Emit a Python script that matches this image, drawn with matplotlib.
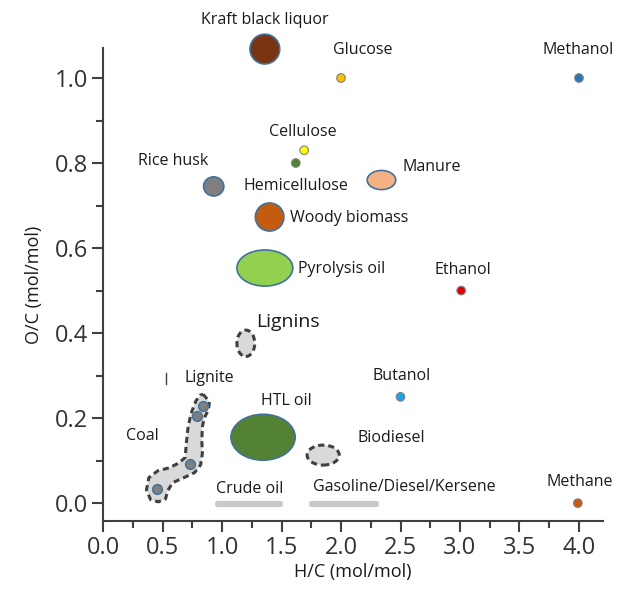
import matplotlib.pyplot as plt
from matplotlib.patches import Ellipse, Polygon
from matplotlib.ticker import MultipleLocator

plt.rcParams['font.family'] = ['Open Sans', 'DejaVu Sans']

# feedstocks drawn as filled circles / ellipses (H/C, O/C)
blob_names = ['Kraft black liquor', 'Rice husk', 'Manure', 'Woody biomass',
              'Pyrolysis oil', 'HTL oil']
blob_hc = [1.36, 0.93, 2.34, 1.40, 1.36, 1.345]
blob_oc = [1.068, 0.745, 0.76, 0.673, 0.553, 0.155]
blob_w = [0.25, 0.17, 0.24, 0.24, 0.47, 0.54]      # width in H/C units
blob_h = [0.07, 0.045, 0.045, 0.066, 0.085, 0.108]  # height in O/C units
blob_colors = ['#7B3411', '#7F7F7F', '#F4B183', '#C55A11', '#92D050', '#548235']

# small pure compounds
dot_names = ['Glucose', 'Methanol', 'Cellulose', 'Hemicellulose', 'Ethanol',
             'Butanol', 'Methane']
dot_hc = [2.0, 4.0, 1.69, 1.62, 3.01, 2.50, 3.99]
dot_oc = [1.0, 1.0, 0.83, 0.80, 0.50, 0.25, 0.0]
dot_colors = ['#FFC000', '#2E75B6', '#FFFF00', '#548235', '#E00000',
              '#1CA3E8', '#C55A11']

# dashed grey regions
region_names = ['Lignins', 'Biodiesel']
region_hc = [1.20, 1.85]
region_oc = [0.376, 0.113]
region_w = [0.15, 0.27]
region_h = [0.062, 0.047]

# coal samples and outline
coal_hc = [0.84, 0.79, 0.73, 0.45]
coal_oc = [0.228, 0.205, 0.092, 0.033]
coal_x = [0.842, 0.895, 0.885, 0.850, 0.835, 0.830, 0.835, 0.820, 0.770, 0.680,
          0.585, 0.545, 0.525, 0.465, 0.400, 0.365, 0.385, 0.460, 0.555, 0.635,
          0.690, 0.700, 0.715, 0.740, 0.780, 0.815]
coal_y = [0.256, 0.238, 0.219, 0.200, 0.180, 0.148, 0.117, 0.090, 0.072, 0.060,
          0.048, 0.030, 0.010, 0.003, 0.008, 0.031, 0.060, 0.076, 0.083, 0.094,
          0.107, 0.141, 0.180, 0.211, 0.240, 0.254]

# fuel ranges (H/C span at O/C ~ 0)
range_names = ['Crude oil', 'Gasoline/Diesel/Kersene']
range_start = [0.97, 1.76]
range_end = [1.49, 2.29]

# label positions
labels = {
    'Kraft black liquor': (1.36, 1.136, 'center'),
    'Glucose': (2.18, 1.066, 'center'),
    'Methanol': (3.99, 1.066, 'center'),
    'Cellulose': (1.68, 0.873, 'center'),
    'Rice husk': (0.59, 0.805, 'center'),
    'Manure': (2.76, 0.79, 'center'),
    'Hemicellulose': (1.62, 0.746, 'center'),
    'Woody biomass': (1.57, 0.671, 'left'),
    'Pyrolysis oil': (1.64, 0.551, 'left'),
    'Ethanol': (3.025, 0.548, 'center'),
    'Lignite': (0.89, 0.294, 'center'),
    'Butanol': (2.51, 0.299, 'center'),
    'HTL oil': (1.545, 0.24, 'center'),
    'Coal': (0.328, 0.158, 'center'),
    'Biodiesel': (2.42, 0.153, 'center'),
    'Crude oil': (1.235, 0.033, 'center'),
    'Gasoline/Diesel/Kersene': (2.53, 0.038, 'center'),
    'Methane': (4.01, 0.049, 'center'),
}

fig = plt.figure(figsize=(6.44, 6.03), dpi=100)
ax = fig.add_axes([0.16, 0.136, 0.776, 0.784])

edge = '#41719C'
for x, y, w, h, c in zip(blob_hc, blob_oc, blob_w, blob_h, blob_colors):
    ax.add_patch(Ellipse((x, y), w, h, facecolor=c, edgecolor=edge, lw=1.2, zorder=3,
                         clip_on=False))

for x, y, w, h in zip(region_hc, region_oc, region_w, region_h):
    ax.add_patch(Ellipse((x, y), w, h, facecolor='#D9D9D9', edgecolor='#404040',
                         lw=2.2, ls=(0, (2, 1.3)), zorder=2))

ax.add_patch(Polygon(list(zip(coal_x, coal_y)), closed=True, facecolor='#D9D9D9',
                     edgecolor='#404040', lw=2.2, ls=(0, (2, 1.3)), zorder=2,
                     joinstyle='round'))
ax.scatter(coal_hc, coal_oc, s=50, c='#7F7F7F', edgecolors=edge, linewidths=1, zorder=3)

ax.scatter(dot_hc, dot_oc, s=38, c=dot_colors, edgecolors='#7F7F7F', linewidths=0.8,
           zorder=4, clip_on=False)

for a, b in zip(range_start, range_end):
    ax.plot([a, b], [-0.002, -0.002], color='#C8C8C8', lw=4.5, solid_capstyle='round', zorder=2)

# small mark left of Lignite
ax.plot([0.53, 0.53], [0.28, 0.305], color='#404040', lw=1)

for name, (x, y, ha) in labels.items():
    ax.text(x, y, name, ha=ha, va='center', fontsize=11.5, color='#1A1A1A')
ax.text(1.555, 0.426, 'Lignins', ha='center', va='center', fontsize=14, color='#1A1A1A')

ax.set_xlim(0, 4.2)
ax.set_ylim(-0.042, 1.07)
ax.spines['top'].set_visible(False)
ax.spines['right'].set_visible(False)
for s in ['left', 'bottom']:
    ax.spines[s].set_color('#404040')
    ax.spines[s].set_linewidth(1.5)

ax.xaxis.set_major_locator(MultipleLocator(0.5))
ax.xaxis.set_minor_locator(MultipleLocator(0.25))
ax.yaxis.set_major_locator(MultipleLocator(0.2))
ax.yaxis.set_minor_locator(MultipleLocator(0.1))
ax.set_yticks([0, 0.2, 0.4, 0.6, 0.8, 1.0])
ax.set_xticks([0, 0.5, 1, 1.5, 2, 2.5, 3, 3.5, 4])
ax.set_xticklabels(['0.0', '0.5', '1.0', '1.5', '2.0', '2.5', '3.0', '3.5', '4.0'])
ax.set_yticklabels(['0.0', '0.2', '0.4', '0.6', '0.8', '1.0'])
ax.tick_params(which='major', length=8, width=1.5, color='#404040', labelsize=17,
               labelcolor='#333333', pad=3)
ax.tick_params(which='minor', length=5, width=1.5, color='#404040')

ax.set_xlabel('H/C (mol/mol)', fontsize=13, color='#1A1A1A', labelpad=2)
ax.set_ylabel('O/C (mol/mol)', fontsize=13, color='#1A1A1A', labelpad=8)

fig.savefig('out.png', dpi=100, facecolor='white')
